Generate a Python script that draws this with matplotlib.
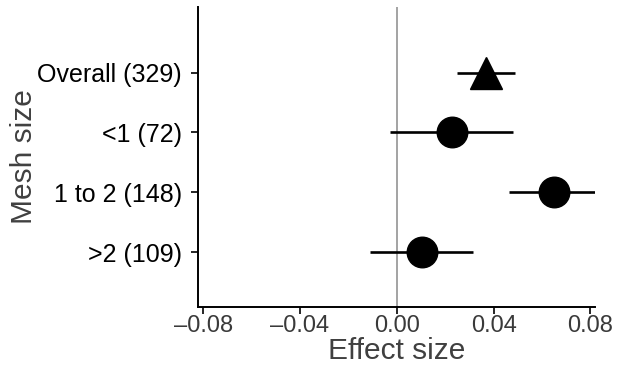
import matplotlib

matplotlib.use("Agg")
import matplotlib.pyplot as plt  # noqa: E402

plt.rcParams["font.family"] = ["Liberation Sans", "DejaVu Sans"]

# Forest plot values (top to bottom)
labels = ["Overall (329)", "<1 (72)", "1 to 2 (148)", ">2 (109)"]
effect = [0.0367, 0.0227, 0.0650, 0.0103]
ci_low = [0.0250, -0.0028, 0.0464, -0.0110]
ci_high = [0.0489, 0.0482, 0.0840, 0.0317]
markers = ["^", "o", "o", "o"]
xticks = [-0.08, -0.04, 0.00, 0.04, 0.08]

fig = plt.figure(figsize=(6.17, 3.67), dpi=100)
ax = fig.add_axes([0.3214, 0.1643, 0.6429, 0.8167])

ax.axvline(0, color="#8a8a8a", linewidth=1.1, zorder=1)

n = len(labels)
ypos = [n - i for i in range(n)]
for y, m, lo, hi, mk in zip(ypos, effect, ci_low, ci_high, markers):
    ax.plot([lo, hi], [y, y], color="black", linewidth=1.9, solid_capstyle="butt", zorder=2)
    size = 23.5 if mk == "^" else 22
    ax.plot([m], [y], marker=mk, markersize=size, color="black", linestyle="none", zorder=3)

ax.set_xlim(-0.082, 0.0819)
ax.set_ylim(0.085, 5.1)
ax.set_yticks(ypos)
ax.set_yticklabels(labels)
ax.set_xticks(xticks)
ax.set_xticklabels([f"{t:.2f}".replace("-", "\u2013") for t in xticks])

ax.tick_params(axis="y", labelsize=18, labelcolor="black", length=5, width=1.2, pad=7)
ax.tick_params(axis="x", labelsize=17, labelcolor="#3a3a3a", length=5, width=1.2, pad=1)
ax.set_xlabel("Effect size", fontsize=21.5, color="#404040", labelpad=0)
ax.set_ylabel("Mesh size", fontsize=21.5, color="#404040")
ax.yaxis.set_label_coords(-0.405, 0.5)

for side in ["top", "right"]:
    ax.spines[side].set_visible(False)
for side in ["left", "bottom"]:
    ax.spines[side].set_linewidth(1.4)

fig.savefig("out.png", dpi=100, facecolor="white")
